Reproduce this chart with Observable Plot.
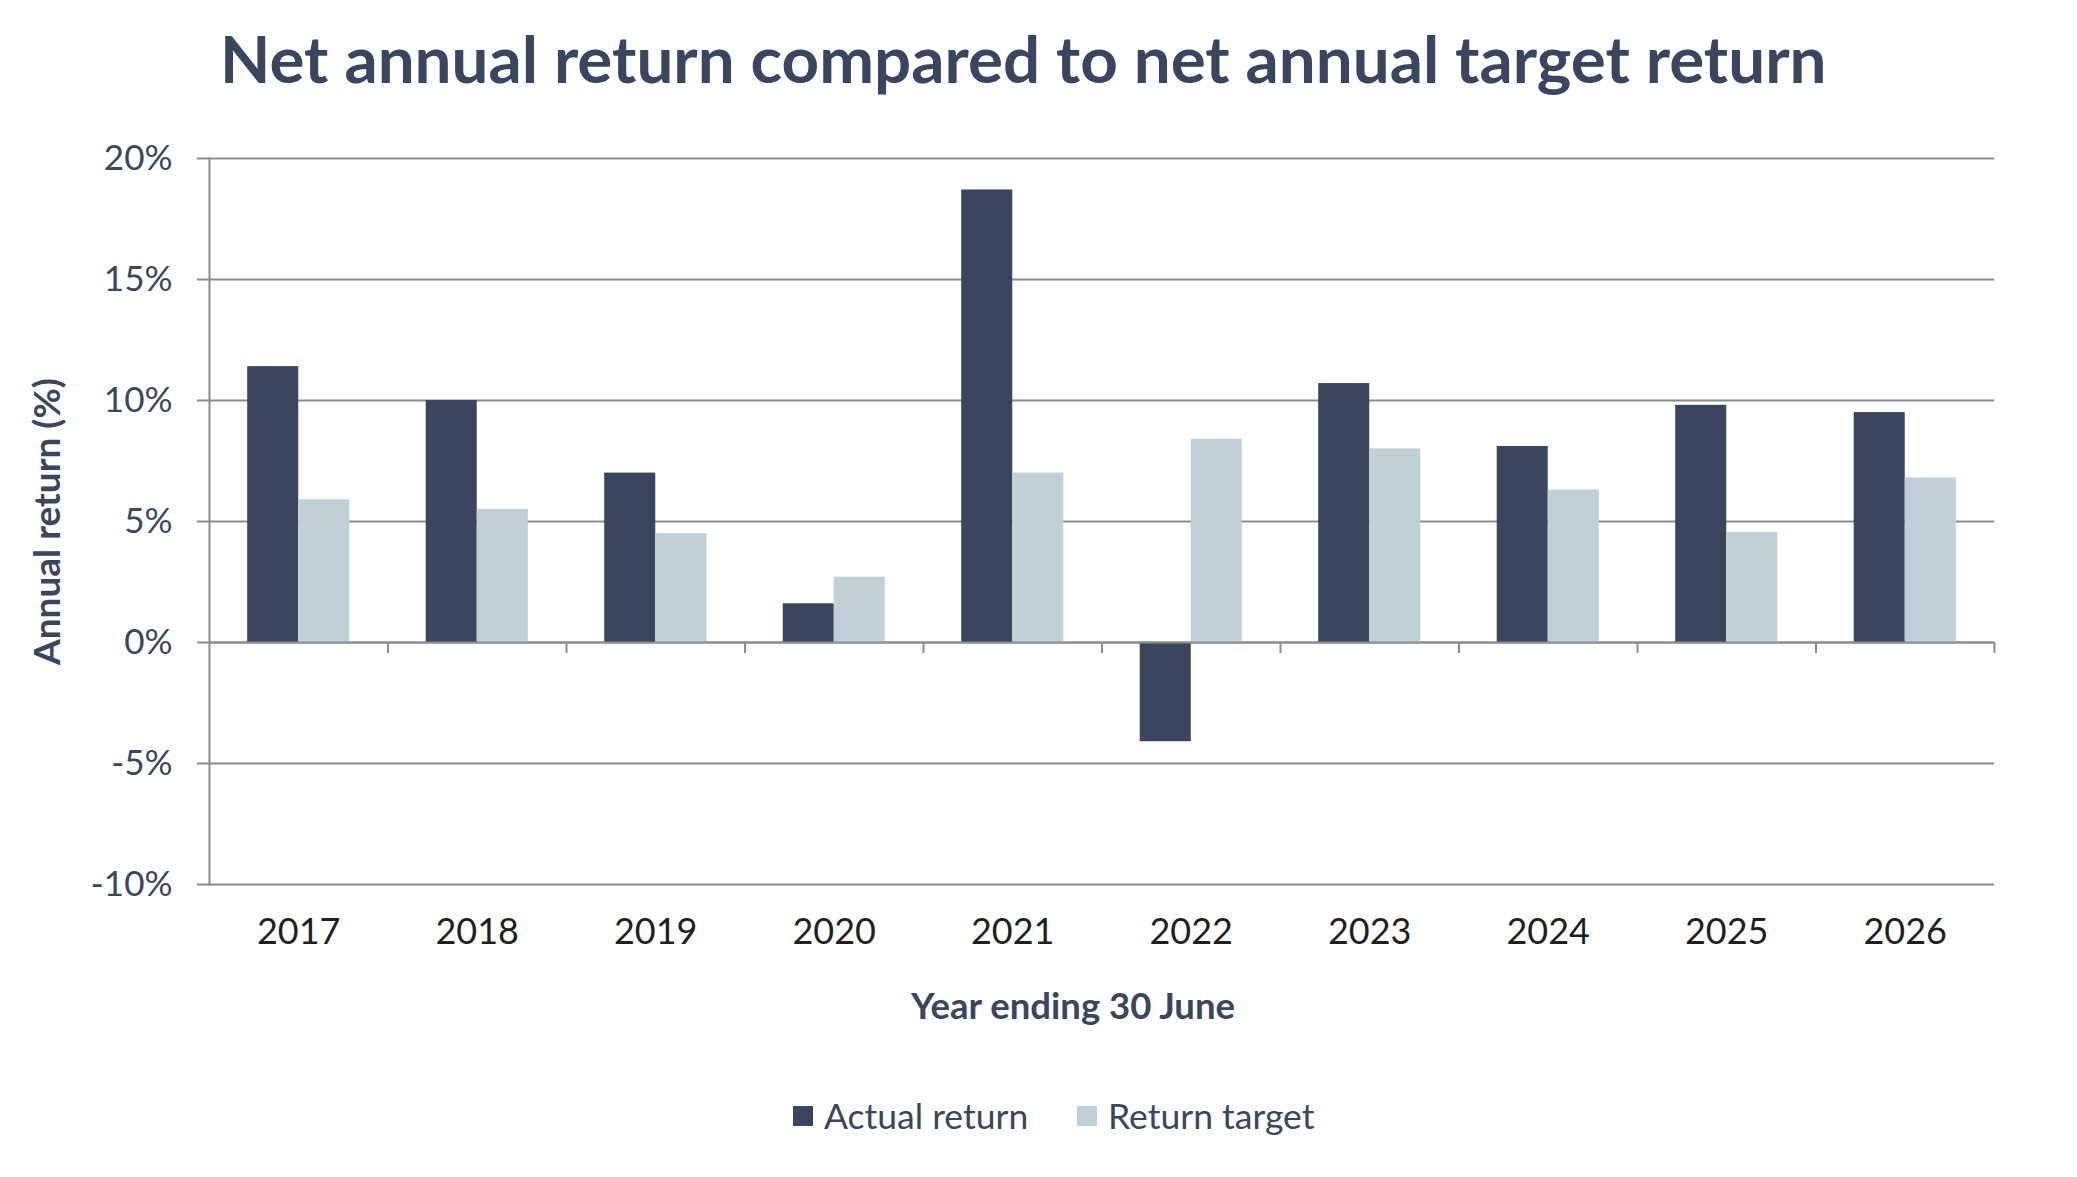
<!DOCTYPE html>
<html>
<head>
<meta charset="utf-8">
<script src="https://cdn.jsdelivr.net/npm/d3@7"></script>
<script src="https://cdn.jsdelivr.net/npm/@observablehq/plot@0.6"></script>
<style>
  html, body { margin: 0; padding: 0; background: #fff; }
  body { width: 2077px; height: 1177px; position: relative; overflow: hidden; font-family: Lato, "Noto Sans", sans-serif; }
  #title { position: absolute; left: 220px; top: -2px; height: 120px; margin: 0; font-size: 65.5px; font-weight: 700; color: #3b455e; line-height: 120px; white-space: nowrap; }
  #chart { position: absolute; left: 0; top: 120px; }
  #legend { position: absolute; top: 1096px; left: 0; width: 2077px; height: 40px; font-size: 35.5px; color: #3b455e; }
  .item { position: absolute; top: 0; height: 40px; line-height: 40px; white-space: nowrap; }
  .sw { position: absolute; top: 10px; width: 20px; height: 20px; }
  .lab { position: absolute; left: 31px; top: 0; }
</style>
</head>
<body>
<h1 id="title">Net annual return compared to net annual target return</h1>
<div id="chart"></div>
<div id="legend"></div>
<script>
const years = [2017, 2018, 2019, 2020, 2021, 2022, 2023, 2024, 2025, 2026];
const actualReturn = [11.4, 10.0, 7.0, 1.6, 18.7, -4.1, 10.7, 8.1, 9.8, 9.5];
const returnTarget = [5.9, 5.5, 4.5, 2.7, 7.0, 8.4, 8.0, 6.3, 4.55, 6.8];
const seriesNames = ["Actual return", "Return target"];
const seriesColors = ["#3b455e", "#c1cfd6"];
const yTicks = [-10, -5, 0, 5, 10, 15, 20];

const navy = "#3b455e";
const gridColor = "#8c8c8c";
const half = 0.286;

const actualData = years.map((y, i) => ({year: y, value: actualReturn[i], series: seriesNames[0]}));
const targetData = years.map((y, i) => ({year: y, value: returnTarget[i], series: seriesNames[1]}));
const boundaries = years.map(y => y + 0.5);

const chart = Plot.plot({
  width: 2077,
  height: 930,
  marginLeft: 209,
  marginRight: 83,
  marginTop: 38,
  marginBottom: 166,
  style: {fontFamily: "Lato, 'Noto Sans', sans-serif", background: "#fff"},
  x: {type: "linear", domain: [years[0] - 0.5, years[years.length - 1] + 0.5]},
  y: {domain: [-10, 20]},
  color: {domain: seriesNames, range: seriesColors},
  marks: [
    Plot.gridY({ticks: yTicks, stroke: gridColor, strokeOpacity: 1, strokeWidth: 2}),
    Plot.rectY(actualData, {x1: d => d.year - half, x2: d => d.year, y1: 0, y2: "value", fill: "series"}),
    Plot.rectY(targetData, {x1: d => d.year, x2: d => d.year + half, y1: 0, y2: "value", fill: "series"}),
    Plot.ruleY([0], {stroke: gridColor, strokeWidth: 2}),
    Plot.ruleX(boundaries, {x: d => d, y1: 0, y2: 0, insetBottom: -11, stroke: gridColor, strokeWidth: 2}),
    Plot.frame({anchor: "left", stroke: gridColor, strokeWidth: 2}),
    Plot.axisY({ticks: yTicks, tickFormat: d => d + "%", tickSize: 12, tickPadding: 25, fontSize: 35, color: navy, stroke: gridColor, strokeWidth: 2, label: null}),
    Plot.axisX({ticks: years, tickFormat: d => String(d), tickSize: 0, tickPadding: 34, fontSize: 36, color: "#1f1f1f", label: null}),
    Plot.text(["Annual return (%)"], {frameAnchor: "left", textAnchor: "middle", dx: -161, rotate: -90, fontSize: 37, fontWeight: 700, fill: navy}),
    Plot.text(["Year ending 30 June"], {frameAnchor: "bottom", textAnchor: "middle", dx: -29, dy: 134, fontSize: 36.5, fontWeight: 700, fill: navy})
  ]
});
document.getElementById("chart").appendChild(chart);

const legend = document.getElementById("legend");
const lefts = [793, 1077];
seriesNames.forEach((name, i) => {
  const item = document.createElement("div");
  item.className = "item";
  item.style.left = lefts[i] + "px";
  const sw = document.createElement("div");
  sw.className = "sw";
  sw.style.background = seriesColors[i];
  const lab = document.createElement("span");
  lab.className = "lab";
  lab.textContent = name;
  item.appendChild(sw);
  item.appendChild(lab);
  legend.appendChild(item);
});
</script>
</body>
</html>
